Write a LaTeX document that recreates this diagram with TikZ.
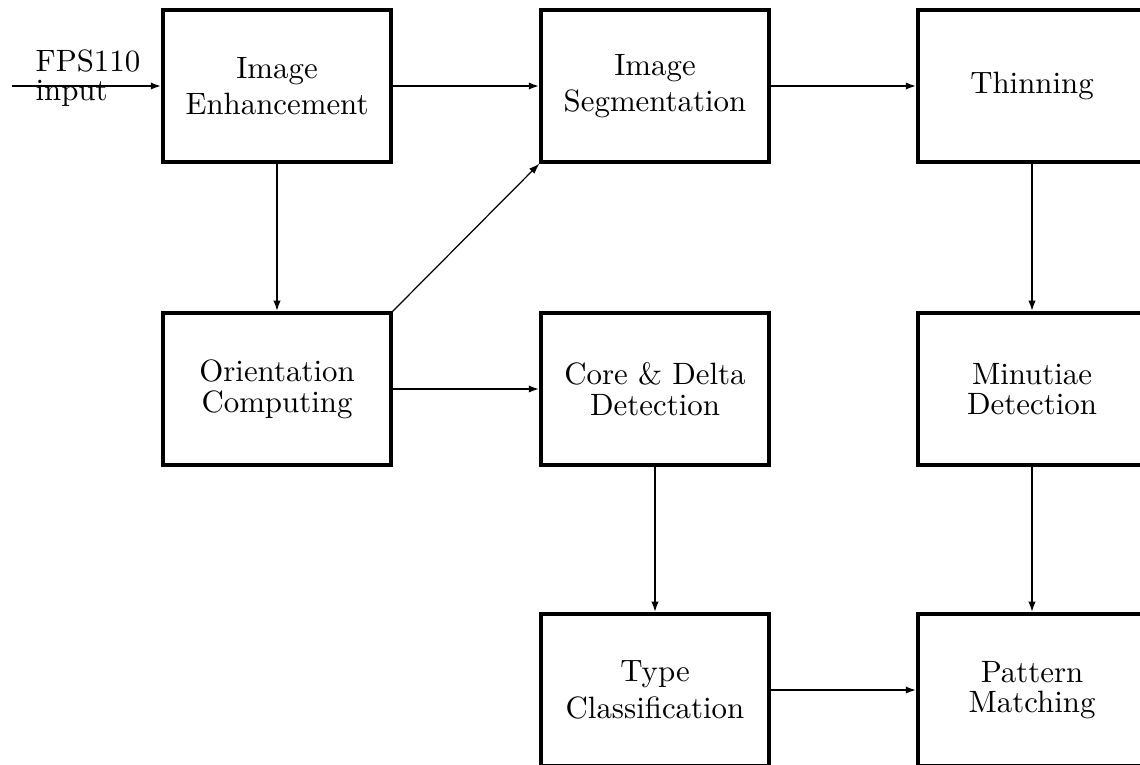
\documentclass[tikz,border=0pt]{standalone}
\usepackage{amsmath}
\usetikzlibrary{arrows.meta}

\newcommand{\stackfont}{\fontsize{10.1}{0}\selectfont\lineskip=2.8pt\lineskiplimit=0pt}

\tikzset{
    block/.style={draw, line width=1.05pt, minimum width=2.622cm, minimum height=1.748cm,
        align=center, font=\stackfont},
    flow/.style={line width=0.75pt, -{Latex[length=3.5pt,width=2.4pt]}},
}

\begin{document}
\begin{tikzpicture}[x=0.0115cm, y=-0.0115cm]

                \useasboundingbox (0,0) rectangle (1140,764);

                % Draw top row
                \node[block] (enh) at (277,86) {Image\\Enhancement};
                \node[block] (seg) at (655,86) {Image\\Segmentation};
                \node[block] (thin) at (1032,86) {Thinning};

                % Draw middle row
                \node[block] (orient) at (277,389) {Orientation\\Computing};
                \node[block] (core) at (655,389) {Core \& Delta\\Detection};
                \node[block] (minu) at (1032,389) {Minutiae\\Detection};

                % Draw bottom row
                \node[block] (type) at (655,690) {Type\\Classification};
                \node[block] (match) at (1032,690) {Pattern\\Matching};

                % Input
                \coordinate (in) at (12,86);
                \draw[flow] (in) -- (enh.west);
                \node[anchor=west, inner sep=0pt, align=left,
                    font=\stackfont] (inlabel) at (35,78) {FPS110\\input};

                % Connections
                \draw[flow] (enh) -- (seg);
                \draw[flow] (seg) -- (thin);
                \draw[flow] (enh) -- (orient);
                \draw[flow] (orient) -- (core);
                \draw[flow] (core) -- (type);
                \draw[flow] (type) -- (match);
                \draw[flow] (thin) -- (minu);
                \draw[flow] (minu) -- (match);
                \draw[line width=0.4pt, -{Latex[length=3.5pt,width=2.4pt]}] (orient.north east) -- (seg.south west);

\end{tikzpicture}
\end{document}
